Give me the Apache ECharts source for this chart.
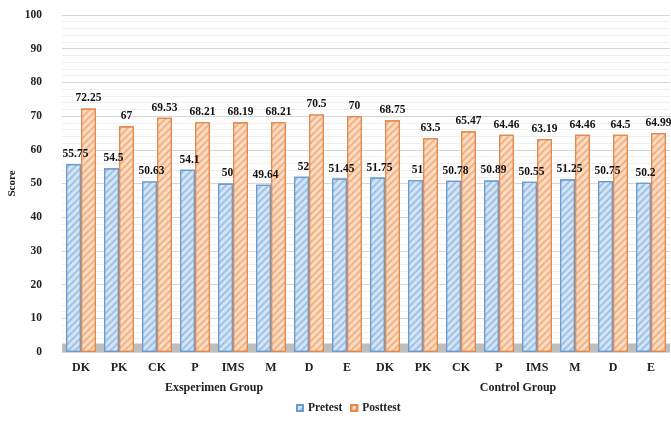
<!DOCTYPE html>
<html><head><meta charset="utf-8">
<script src="https://cdn.jsdelivr.net/npm/echarts@6/dist/echarts.min.js"></script>
<style>html,body{margin:0;padding:0;background:#fff}#c{width:671px;height:425px}</style>
</head><body><div id="c"></div>
<script>
var categories = ['DK','PK','CK','P','IMS','M','D','E','DK','PK','CK','P','IMS','M','D','E'];
var groups = ['Exsperimen Group','Control Group'];
var pretest = [55.75,54.5,50.63,54.1,50,49.64,52,51.45,51.75,51,50.78,50.89,50.55,51.25,50.75,50.2];
var posttest = [72.25,67,69.53,68.21,68.19,68.21,70.5,70,68.75,63.5,65.47,64.46,63.19,64.46,64.5,64.99];
var seriesNames = ['Pretest','Posttest'];
var yTicks = {min:0,max:100,interval:10};

var font = 'Liberation Serif';
var chart = echarts.init(document.getElementById('c'));
function hatch(c){return {symbol:'rect',symbolSize:1,dashArrayX:[1,0],dashArrayY:[1.5,2.5],rotation:-Math.PI/4,color:c};}
var lbl = {show:true,position:'top',distance:4,color:'#111',fontFamily:font,fontWeight:'bold',fontSize:11.5};
chart.setOption({
  animation:false,
  aria:{enabled:false},
  grid:{left:62,right:1,top:15,bottom:73,outerBoundsMode:'none',containLabel:false},
  legend:{bottom:6,left:291,itemWidth:6,itemHeight:6,itemGap:8,icon:'rect',
    textStyle:{fontFamily:font,fontWeight:'bold',fontSize:11.5,color:'#222'},
    data:seriesNames},
  xAxis:[{type:'category',data:categories,axisTick:{show:false},
    axisLine:{show:false},
    axisLabel:{fontFamily:font,fontWeight:'bold',fontSize:12,color:'#222',margin:10,interval:0}},
   {type:'category',data:groups,position:'bottom',offset:20,axisTick:{show:false},axisLine:{show:false},
    axisLabel:{fontFamily:font,fontWeight:'bold',fontSize:12,color:'#222',margin:10}}],
  yAxis:{type:'value',min:yTicks.min,max:yTicks.max,interval:yTicks.interval,
    name:'Score',nameLocation:'middle',nameGap:44,nameMoveOverlap:false,
    nameTextStyle:{fontFamily:font,fontWeight:'bold',fontSize:11,color:'#222'},
    axisLabel:{fontFamily:font,fontWeight:'bold',fontSize:11.5,color:'#222',margin:20},
    splitLine:{lineStyle:{color:'#d6d6d6',width:1}},
    minorTick:{show:false,splitNumber:5},
    minorSplitLine:{show:true,lineStyle:{color:'#efefef',width:1}}},
  series:[
    {name:seriesNames[0],type:'bar',data:pretest,barWidth:15,barGap:'0%',
     itemStyle:{color:'#d3e4f5',borderColor:'#6d9bcf',borderWidth:1.2,decal:hatch('rgba(120,165,215,0.55)')},
     label:Object.assign({},lbl,{offset:[2,0]}),
     markArea:{silent:true,itemStyle:{color:'#bdbdbd'},data:[[{yAxis:0},{yAxis:2.5}]]}},
    {name:seriesNames[1],type:'bar',data:posttest,barWidth:15,
     itemStyle:{color:'#fddcc2',borderColor:'#e38a4c',borderWidth:1.2,decal:hatch('rgba(235,150,95,0.6)')},
     label:lbl}
  ]
});
</script></body></html>
